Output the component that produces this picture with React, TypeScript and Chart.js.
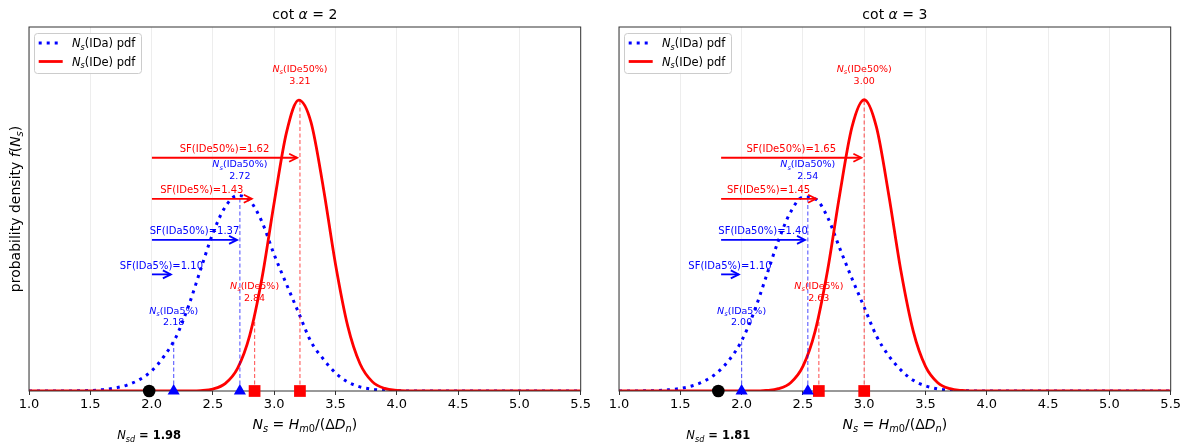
import React, { useEffect, useRef } from "react";
import { Chart, registerables } from "chart.js";

Chart.register(...registerables);

// ---------------- data ----------------
const X_GRID = [1.0, 1.1, 1.2, 1.3, 1.4, 1.5, 1.6, 1.7, 1.8, 1.9, 2.0, 2.1, 2.2, 2.3, 2.4, 2.5, 2.6, 2.7, 2.8, 2.9, 3.0, 3.1, 3.2, 3.3, 3.4, 3.5, 3.6, 3.7, 3.8, 3.9, 4.0, 4.1, 4.2, 4.3, 4.4, 4.5, 4.6, 4.7, 4.8, 4.9, 5.0, 5.1, 5.2, 5.3, 5.4, 5.5];

const IDA_PDF_COT2 = [0, 0, 0, 0, 0.001, 0.003, 0.008, 0.018, 0.036, 0.069, 0.122, 0.21, 0.33, 0.515, 0.74, 0.96, 1.12, 1.19, 1.16, 1.03, 0.83, 0.65, 0.475, 0.3, 0.195, 0.11, 0.055, 0.025, 0.011, 0.004, 0.0015, 0, 0, 0, 0, 0, 0, 0, 0, 0, 0, 0, 0, 0, 0, 0];
const IDE_PDF_COT2 = [0, 0, 0, 0, 0, 0, 0, 0, 0, 0, 0, 0, 0, 0.0005, 0.0027, 0.012, 0.045, 0.136, 0.337, 0.686, 1.148, 1.573, 1.771, 1.637, 1.241, 0.772, 0.395, 0.166, 0.057, 0.016, 0.0037, 0.0007, 0, 0, 0, 0, 0, 0, 0, 0, 0, 0, 0, 0, 0, 0];
const IDA_PDF_COT3 = [0, 0, 0.0008, 0.0025, 0.007, 0.016, 0.032, 0.062, 0.111, 0.19, 0.305, 0.478, 0.695, 0.915, 1.09, 1.18, 1.17, 1.06, 0.87, 0.685, 0.51, 0.335, 0.215, 0.127, 0.065, 0.031, 0.013, 0.0055, 0.002, 0.0005, 0, 0, 0, 0, 0, 0, 0, 0, 0, 0, 0, 0, 0, 0, 0, 0];
const IDE_PDF_COT3 = [0, 0, 0, 0, 0, 0, 0, 0, 0, 0, 0, 0, 0.0032, 0.014, 0.0507, 0.15, 0.365, 0.729, 1.195, 1.606, 1.773, 1.606, 1.195, 0.729, 0.365, 0.15, 0.0507, 0.014, 0.0032, 0, 0, 0, 0, 0, 0, 0, 0, 0, 0, 0, 0, 0, 0, 0, 0, 0];

const Y_MAX = 2.216;

// quantiles [5%, 50%]
const NSD_COT2 = 1.98;
const IDA_Q_COT2 = [2.18, 2.72];
const IDE_Q_COT2 = [2.84, 3.21];
const IDA_TOP_COT2 = [0.3, 1.19];
const IDE_TOP_COT2 = [0.45, 1.77];
const SF_IDA_COT2 = ["1.10", "1.37"];
const SF_IDE_COT2 = ["1.43", "1.62"];

const NSD_COT3 = 1.81;
const IDA_Q_COT3 = [2.0, 2.54];
const IDE_Q_COT3 = [2.63, 3.0];
const IDA_TOP_COT3 = [0.3, 1.19];
const IDE_TOP_COT3 = [0.45, 1.77];
const SF_IDA_COT3 = ["1.10", "1.40"];
const SF_IDE_COT3 = ["1.45", "1.65"];

// arrow heights (density units) for [IDa5, IDa50] and [IDe5, IDe50]
const SF_IDA_LEVEL = [0.71, 0.92];
const SF_IDE_LEVEL = [1.17, 1.42];

const X_TICKS_MIN = 1.0;
const X_TICKS_MAX = 5.5;

const Q_NAMES = ["5%", "50%"];

// ---------------- drawing helpers ----------------
const FONT = '"DejaVu Sans", sans-serif';
const BLUE = "#0000ff";
const RED = "#ff0000";

type Seg = { t: string; it?: boolean; sub?: boolean; b?: boolean };

function segFont(s: Seg, size: number) {
  const sz = s.sub ? size * 0.7 : size;
  return `${s.it ? "italic " : ""}${s.b ? "bold " : ""}${sz}px ${FONT}`;
}

function richWidth(ctx: CanvasRenderingContext2D, segs: Seg[], size: number) {
  let w = 0;
  for (const s of segs) {
    ctx.font = segFont(s, size);
    w += ctx.measureText(s.t).width;
  }
  return w;
}

function drawRich(ctx: CanvasRenderingContext2D, segs: Seg[], x: number, yc: number, size: number, color: string, align: "center" | "left" = "center") {
  const w = richWidth(ctx, segs, size);
  let cx = align === "center" ? x - w / 2 : x;
  const base = yc + size * 0.36;
  ctx.fillStyle = color;
  ctx.textAlign = "left";
  ctx.textBaseline = "alphabetic";
  for (const s of segs) {
    ctx.font = segFont(s, size);
    ctx.fillText(s.t, cx, base + (s.sub ? size * 0.22 : 0));
    cx += ctx.measureText(s.t).width;
  }
}

function drawArrow(ctx: CanvasRenderingContext2D, x0: number, x1: number, y: number, color: string) {
  const shrink = 2.8;
  const a = x0 + shrink;
  const b = x1 - shrink;
  ctx.save();
  ctx.strokeStyle = color;
  ctx.lineWidth = 1.8;
  ctx.lineCap = "butt";
  ctx.lineJoin = "miter";
  ctx.beginPath();
  ctx.moveTo(a, y);
  ctx.lineTo(b, y);
  ctx.stroke();
  ctx.beginPath();
  ctx.moveTo(b - 8, y - 4);
  ctx.lineTo(b, y);
  ctx.lineTo(b - 8, y + 4);
  ctx.stroke();
  ctx.restore();
}

type PanelCfg = {
  cot: string;
  ida: number[];
  ide: number[];
  nsd: number;
  idaQ: number[];
  ideQ: number[];
  idaTop: number[];
  ideTop: number[];
  sfIda: string[];
  sfIde: string[];
  yAxisWidth: number;
  padRight: number;
  showYTitle: boolean;
};

const LEFT: PanelCfg = {
  cot: "2",
  ida: IDA_PDF_COT2,
  ide: IDE_PDF_COT2,
  nsd: NSD_COT2,
  idaQ: IDA_Q_COT2,
  ideQ: IDE_Q_COT2,
  idaTop: IDA_TOP_COT2,
  ideTop: IDE_TOP_COT2,
  sfIda: SF_IDA_COT2,
  sfIde: SF_IDE_COT2,
  yAxisWidth: 29,
  padRight: 14.3,
  showYTitle: true,
};

const RIGHT: PanelCfg = {
  cot: "3",
  ida: IDA_PDF_COT3,
  ide: IDE_PDF_COT3,
  nsd: NSD_COT3,
  idaQ: IDA_Q_COT3,
  ideQ: IDE_Q_COT3,
  idaTop: IDA_TOP_COT3,
  ideTop: IDE_TOP_COT3,
  sfIda: SF_IDA_COT3,
  sfIde: SF_IDE_COT3,
  yAxisWidth: 24,
  padRight: 18.3,
  showYTitle: false,
};

function makeDecor(cfg: PanelCfg) {
  return {
    id: "decor",
    afterDatasetDraw(chart: any, args: any) {
      if (args.index !== 1) return;
      const { ctx, chartArea } = chart;
      ctx.save();
      ctx.strokeStyle = "#333";
      ctx.lineWidth = 1;
      ctx.strokeRect(chartArea.left, chartArea.top, chartArea.right - chartArea.left, chartArea.bottom - chartArea.top);
      ctx.restore();
    },
    afterDraw(chart: any) {
      const { ctx, chartArea } = chart;
      const xs = chart.scales.x;
      const ys = chart.scales.y;
      const px = (v: number) => xs.getPixelForValue(v);
      const py = (v: number) => ys.getPixelForValue(v);
      const cx = (chartArea.left + chartArea.right) / 2;

      // SF arrows + labels
      const drawSF = (q: number, level: number, name: string, val: string, color: string) => {
        const y = py(level);
        drawArrow(ctx, px(cfg.nsd), px(q), y, color);
        drawRich(ctx, [{ t: `SF(${name})=${val}` }], (px(cfg.nsd) + px(q)) / 2, y - 9, 10, color);
      };
      for (let i = 0; i < 2; i++) {
        drawSF(cfg.idaQ[i], SF_IDA_LEVEL[i], "IDa" + Q_NAMES[i], cfg.sfIda[i], BLUE);
        drawSF(cfg.ideQ[i], SF_IDE_LEVEL[i], "IDe" + Q_NAMES[i], cfg.sfIde[i], RED);
      }

      // quantile labels
      const drawQ = (q: number, top: number, name: string, color: string) => {
        const y = py(top);
        drawRich(ctx, [{ t: "N", it: true }, { t: "s", it: true, sub: true }, { t: `(${name})` }], px(q), y - 31.5, 9.5, color);
        drawRich(ctx, [{ t: q.toFixed(2) }], px(q), y - 20, 9.5, color);
      };
      for (let i = 0; i < 2; i++) {
        drawQ(cfg.idaQ[i], cfg.idaTop[i], "IDa" + Q_NAMES[i], BLUE);
        drawQ(cfg.ideQ[i], cfg.ideTop[i], "IDe" + Q_NAMES[i], RED);
      }

      // legend
      const lx = chartArea.left + 5;
      const ly = chartArea.top + 6;
      ctx.save();
      ctx.fillStyle = "rgba(255,255,255,0.85)";
      ctx.strokeStyle = "#cccccc";
      ctx.lineWidth = 1;
      ctx.beginPath();
      (ctx as any).roundRect(lx + 0.5, ly + 0.5, 107, 40, 3);
      ctx.fill();
      ctx.stroke();
      ctx.lineWidth = 3;
      ctx.strokeStyle = BLUE;
      ctx.setLineDash([3, 5]);
      ctx.beginPath();
      ctx.moveTo(lx + 4.7, ly + 10);
      ctx.lineTo(lx + 28.7, ly + 10);
      ctx.stroke();
      ctx.setLineDash([]);
      ctx.strokeStyle = RED;
      ctx.lineWidth = 2.8;
      ctx.beginPath();
      ctx.moveTo(lx + 4.7, ly + 28.5);
      ctx.lineTo(lx + 28.7, ly + 28.5);
      ctx.stroke();
      ctx.restore();
      drawRich(ctx, [{ t: "N", it: true }, { t: "s", it: true, sub: true }, { t: "(IDa) pdf" }], lx + 38, ly + 10, 11.5, "#000", "left");
      drawRich(ctx, [{ t: "N", it: true }, { t: "s", it: true, sub: true }, { t: "(IDe) pdf" }], lx + 38, ly + 28.5, 11.5, "#000", "left");

      // title
      drawRich(ctx, [{ t: "cot " }, { t: "α", it: true }, { t: " = " + cfg.cot }], cx, 14, 14, "#000");

      // x title
      drawRich(
        ctx,
        [
          { t: "N", it: true },
          { t: "s", it: true, sub: true },
          { t: " = " },
          { t: "H", it: true },
          { t: "m", it: true, sub: true },
          { t: "0", sub: true },
          { t: "/(Δ" },
          { t: "D", it: true },
          { t: "n", it: true, sub: true },
          { t: ")" },
        ],
        cx,
        424,
        14,
        "#000"
      );

      // N_sd label
      drawRich(ctx, [{ t: "N", it: true }, { t: "sd", it: true, sub: true }, { t: " = " + cfg.nsd.toFixed(2), b: true }], px(cfg.nsd), 435, 11.5, "#000");

      // y title
      if (cfg.showYTitle) {
        ctx.save();
        ctx.translate(15, (chartArea.top + chartArea.bottom) / 2);
        ctx.rotate(-Math.PI / 2);
        drawRich(
          ctx,
          [{ t: "probability density " }, { t: "f", it: true }, { t: "(" }, { t: "N", it: true }, { t: "s", it: true, sub: true }, { t: ")" }],
          0,
          0,
          14,
          "#000"
        );
        ctx.restore();
      }
    },
  };
}

function buildConfig(cfg: PanelCfg): any {
  const vline = (q: number, top: number, color: string) => ({
    type: "line",
    data: [
      { x: q, y: 0 },
      { x: q, y: top },
    ],
    borderColor: color,
    borderWidth: 1.2,
    borderDash: [4, 2.5],
    pointRadius: 0,
    fill: false,
    order: 8,
  });
  return {
    type: "line",
    data: {
      datasets: [
        {
          label: "Ns(IDa) pdf",
          data: X_GRID.map((x, i) => ({ x, y: cfg.ida[i] })),
          borderColor: BLUE,
          borderWidth: 3,
          borderDash: [3, 5],
          borderCapStyle: "butt",
          pointRadius: 0,
          cubicInterpolationMode: "monotone",
          fill: false,
          order: 10,
        },
        {
          label: "Ns(IDe) pdf",
          data: X_GRID.map((x, i) => ({ x, y: cfg.ide[i] })),
          borderColor: RED,
          borderWidth: 2.8,
          pointRadius: 0,
          cubicInterpolationMode: "monotone",
          fill: false,
          order: 9,
        },
        vline(cfg.idaQ[0], cfg.idaTop[0], "rgba(0,0,255,0.6)"),
        vline(cfg.idaQ[1], cfg.idaTop[1], "rgba(0,0,255,0.6)"),
        vline(cfg.ideQ[0], cfg.ideTop[0], "rgba(255,0,0,0.6)"),
        vline(cfg.ideQ[1], cfg.ideTop[1], "rgba(255,0,0,0.6)"),
        {
          type: "scatter",
          data: [{ x: cfg.nsd, y: 0 }],
          pointStyle: "circle",
          pointRadius: 6.3,
          pointBackgroundColor: "#000",
          pointBorderWidth: 0,
          showLine: false,
          clip: false,
          order: 1,
        },
        {
          type: "scatter",
          data: cfg.idaQ.map((q) => ({ x: q, y: 0 })),
          pointStyle: "triangle",
          pointRadius: 7,
          pointBackgroundColor: BLUE,
          pointBorderWidth: 0,
          showLine: false,
          clip: false,
          order: 1,
        },
        {
          type: "scatter",
          data: cfg.ideQ.map((q) => ({ x: q, y: 0 })),
          pointStyle: "rect",
          pointRadius: 8.3,
          pointBackgroundColor: RED,
          pointBorderWidth: 0,
          showLine: false,
          clip: false,
          order: 1,
        },
      ],
    },
    options: {
      animation: false,
      responsive: false,
      maintainAspectRatio: false,
      events: [],
      layout: { padding: { top: 27, right: cfg.padRight, bottom: 0, left: 0 } },
      plugins: { legend: { display: false }, tooltip: { enabled: false }, title: { display: false } },
      scales: {
        x: {
          type: "linear",
          min: X_TICKS_MIN,
          max: X_TICKS_MAX,
          afterFit: (s: any) => {
            s.height = 53;
          },
          ticks: {
            stepSize: 0.5,
            autoSkip: false,
            maxRotation: 0,
            padding: 2,
            color: "#000",
            font: { family: "DejaVu Sans", size: 13 },
            callback: (v: any) => Number(v).toFixed(1),
          },
          grid: { color: "#e8e8e8", lineWidth: 0.8, tickColor: "#333", tickLength: 4, tickWidth: 1 },
          border: { display: false },
        },
        y: {
          type: "linear",
          min: 0,
          max: Y_MAX,
          afterFit: (s: any) => {
            s.width = cfg.yAxisWidth;
          },
          ticks: { display: false },
          grid: { display: false, drawTicks: false },
          border: { display: false },
        },
      },
    },
    plugins: [makeDecor(cfg)],
  };
}

function Panel({ cfg, left, width }: { cfg: PanelCfg; left: number; width: number }) {
  const ref = useRef<HTMLCanvasElement | null>(null);
  useEffect(() => {
    if (!ref.current) return;
    const chart = new Chart(ref.current, buildConfig(cfg));
    return () => chart.destroy();
  }, [cfg]);
  return <canvas ref={ref} width={width} height={444} style={{ position: "absolute", left, top: 0, width, height: 444 }} />;
}

export default function App() {
  useEffect(() => {
    document.body.style.margin = "0";
  }, []);
  return (
    <div style={{ position: "relative", width: 1189, height: 444, background: "#fff", overflow: "hidden" }}>
      <Panel cfg={LEFT} left={0} width={595} />
      <Panel cfg={RIGHT} left={595} width={594} />
    </div>
  );
}
